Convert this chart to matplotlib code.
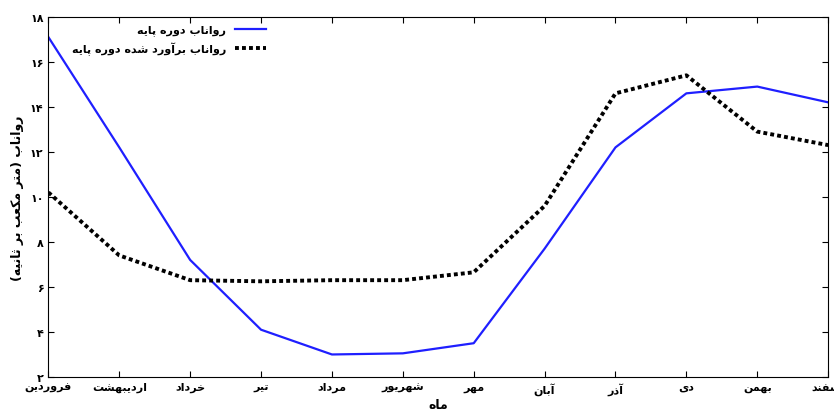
import unicodedata
import matplotlib
matplotlib.use("Agg")
import matplotlib.pyplot as plt

months = ["فروردین", "اردیبهشت", "خرداد", "تیر", "مرداد", "شهریور",
          "مهر", "آبان", "آذر", "دی", "بهمن", "اسفند"]
base_runoff = [17.1, 12.2, 7.2, 4.1, 3.0, 3.05, 3.5, 7.7, 12.2, 14.6, 14.9, 14.2]
est_runoff = [10.2, 7.4, 6.3, 6.25, 6.3, 6.3, 6.65, 9.6, 14.6, 15.4, 12.9, 12.3]
yticks = [2, 4, 6, 8, 10, 12, 14, 16, 18]

NONJOIN = set("اآدذرزژو")


def _form(ch, kind):
    try:
        return unicodedata.lookup(unicodedata.name(ch) + " " + kind + " FORM")
    except (KeyError, ValueError):
        return ch


def is_ar(ch):
    return "\u0600" <= ch <= "\u06ff"


def fa(text):
    # tiny shaper: choose contextual forms, then reverse for RTL display
    out = []
    n = len(text)
    for i, ch in enumerate(text):
        if not is_ar(ch):
            out.append(ch)
            continue
        prev = text[i - 1] if i > 0 else ""
        nxt = text[i + 1] if i < n - 1 else ""
        jp = prev != "" and is_ar(prev) and prev not in NONJOIN
        jn = nxt != "" and is_ar(nxt) and ch not in NONJOIN
        if jp and jn:
            out.append(_form(ch, "MEDIAL"))
        elif jp:
            out.append(_form(ch, "FINAL"))
        elif jn:
            out.append(_form(ch, "INITIAL"))
        else:
            out.append(_form(ch, "ISOLATED"))
    s = "".join(out)[::-1]
    return s.translate(str.maketrans("()", ")("))


def fa_digits(v):
    return str(v).translate(str.maketrans("0123456789", "۰۱۲۳۴۵۶۷۸۹"))


plt.rcParams["font.family"] = ["DejaVu Sans"]
plt.rcParams["font.weight"] = "bold"

fig = plt.figure(figsize=(8.34, 4.14), dpi=100)
ax = fig.add_axes([0.058, 0.087, 0.935, 0.87])
x = list(range(len(months)))
ax.plot(x, base_runoff, color="#1f1fff", lw=1.6, label=fa("رواناب دوره پایه"))
ax.plot(x, est_runoff, color="black", lw=2.8, ls=(0, (1, 0.8)),
        label=fa("رواناب برآورد شده دوره پایه"))
ax.set_xlim(0, 11)
ax.set_ylim(2, 18)
ax.set_xticks(x)
ax.set_xticklabels([fa(m) for m in months], fontsize=8)
ax.set_yticks(yticks)
ax.set_yticklabels([fa_digits(v) for v in yticks], fontsize=8)
ax.tick_params(direction="in", top=True, right=True, length=4)
ax.set_xlabel(fa("ماه"), fontsize=9, fontweight="bold", labelpad=2)
ax.set_ylabel(fa("رواناب (متر مکعب بر ثانیه)"), fontsize=9, fontweight="bold")
ax.legend(loc="upper left", frameon=False, markerfirst=False, fontsize=8,
          handlelength=2.8, borderaxespad=0.3, bbox_to_anchor=(0.02, 1.0))
fig.savefig("out.png", dpi=100)
